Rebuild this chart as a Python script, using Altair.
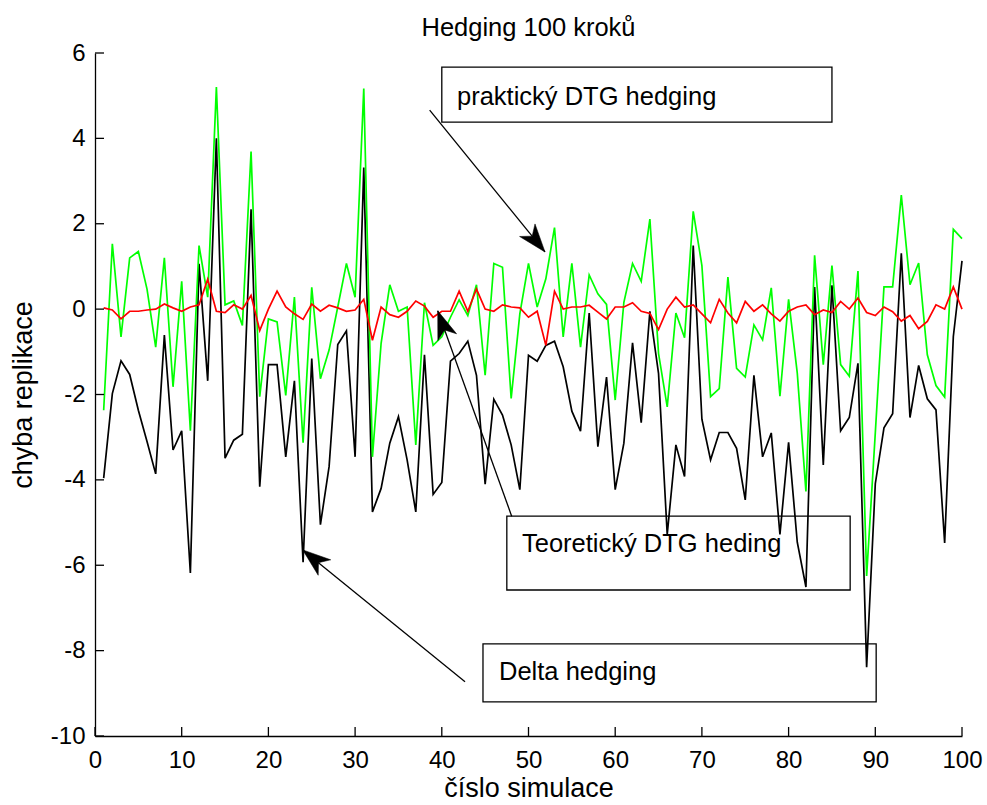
import math
import altair as alt
import pandas as pd

# ---------------- data ----------------
sim = list(range(1, 101))

delta = [-3.96, -1.98, -1.21, -1.53, -2.37, -3.10, -3.86, -0.61, -3.30, -2.85,
         -6.18, 1.06, -1.68, 4.00, -3.49, -3.07, -2.93, 2.34, -4.16, -1.30,
         -1.30, -3.46, -1.68, -5.93, -1.16, -5.05, -3.69, -0.83, -0.51, -3.46,
         3.32, -4.75, -4.20, -3.14, -2.52, -3.53, -4.75, -1.07, -4.34, -4.06,
         -1.22, -1.04, -0.75, -1.55, -4.10, -2.11, -2.48, -3.18, -4.23, -1.08,
         -1.22, -0.85, -0.75, -1.35, -2.39, -2.86, -0.09, -3.22, -1.59, -4.23,
         -3.14, -0.79, -2.66, -0.05, -1.51, -5.28, -3.18, -3.92, 1.49, -2.58,
         -3.53, -2.89, -2.89, -3.26, -4.47, -1.55, -3.46, -2.90, -5.28, -3.12,
         -5.46, -6.51, 0.52, -3.65, 0.56, -2.85, -2.54, -1.27, -8.39, -4.09,
         -2.78, -2.45, 1.31, -2.54, -1.32, -2.10, -2.36, -5.48, -0.64, 1.13]

prak = [-2.37, 1.53, -0.65, 1.20, 1.35, 0.47, -0.89, 1.20, -1.82, 0.65,
        -2.85, 1.49, 0.28, 5.20, 0.10, 0.19, -0.38, 3.69, -2.05, -0.23,
        -0.30, -2.02, 0.28, -3.13, 0.51, -1.63, -0.96, 0.05, 1.07, 0.28,
        5.17, -3.46, -0.80, 0.57, -0.05, 0.05, -3.18, 0.15, -0.85, -0.65,
        -0.19, 0.22, -0.15, 0.57, -1.55, 1.07, 0.98, -2.09, -0.11, 1.07,
        0.05, 0.71, 1.91, -0.65, 1.07, -0.89, 0.80, 0.36, 0.11, -2.13,
        0.16, 1.07, 0.65, 2.11, -1.04, -2.29, -0.09, -0.67, 2.29, 1.02,
        -2.05, -1.86, 0.75, -1.39, -1.59, -0.37, -0.72, 0.50, -2.04, 0.23,
        -1.50, -4.27, 1.26, -1.30, 1.02, -1.30, -1.57, 0.89, -6.25, -2.90,
        0.52, 0.52, 2.67, 0.57, 1.08, -1.07, -1.79, -2.06, 1.87, 1.65]

teor = [0.03, -0.02, -0.23, -0.05, -0.05, -0.02, 0.00, 0.12, 0.03, -0.05,
        0.05, 0.10, 0.70, -0.05, -0.08, 0.10, 0.00, 0.32, -0.50, 0.00,
        0.42, 0.05, -0.11, -0.24, 0.12, -0.05, 0.09, 0.03, -0.05, -0.02,
        0.23, -0.73, 0.05, -0.13, -0.19, -0.05, 0.19, 0.07, -0.19, -0.05,
        -0.05, 0.42, -0.05, 0.47, 0.00, -0.05, 0.10, 0.05, 0.03, -0.19,
        -0.05, -0.85, 0.42, 0.00, 0.05, 0.05, 0.09, -0.07, -0.23, 0.05,
        0.05, 0.15, -0.05, -0.10, -0.48, 0.00, 0.28, 0.05, 0.10, -0.11,
        -0.32, 0.23, -0.09, -0.32, 0.18, -0.05, 0.10, -0.11, -0.28, -0.05,
        0.05, 0.10, -0.13, -0.02, -0.08, 0.18, 0.00, 0.26, -0.08, -0.15,
        0.05, -0.06, -0.28, -0.15, -0.46, -0.29, 0.10, 0.00, 0.52, 0.00]

x_ticks = list(range(0, 101, 10))
y_ticks = list(range(-10, 7, 2))

title_text = "Hedging 100 kroků"
x_title = "číslo simulace"
y_title = "chyba replikace"

# annotations (data units)
box_labels = ["praktický DTG hedging", "Teoretický DTG heding", "Delta hedging"]
box_x1 = [40.0, 47.5, 44.75]
box_x2 = [85.0, 87.1, 90.1]
box_y1 = [5.67, -4.85, -7.84]
box_y2 = [4.38, -6.58, -9.20]
text_x = [41.75, 49.25, 46.6]
text_y = [4.78, -5.69, -8.69]
arrow_x1 = [38.6, 48.06, 42.68]
arrow_y1 = [4.66, -4.85, -8.73]
arrow_x2 = [51.9, 39.53, 23.96]
arrow_y2 = [1.34, -0.04, -5.64]

# ---------------- layout ----------------
W, H = 867, 683
FONT = "Liberation Sans"
XDOM, YDOM = [0, 100], [-10, 6]
LBL = "datum.value < 0 ? '-' + abs(datum.value) : '' + datum.value"

xs = alt.Scale(domain=XDOM, nice=False, zero=False)
ys = alt.Scale(domain=YDOM, nice=False, zero=False)
xaxis = alt.Axis(title=x_title, values=x_ticks, ticks=False, grid=False,
                 labelPadding=12, titlePadding=3, labelExpr=LBL,
                 labelFlush=False, labelOverlap=False)
yaxis = alt.Axis(title=y_title, values=y_ticks, ticks=False, grid=False,
                 labelPadding=10, titlePadding=13, labelExpr=LBL,
                 labelFlush=False, labelOverlap=False)


def X(f):
    return alt.X(f, type="quantitative", scale=xs, axis=xaxis)


def Y(f):
    return alt.Y(f, type="quantitative", scale=ys, axis=yaxis)


lines_df = pd.DataFrame({"sim": sim, "delta": delta, "prak": prak, "teor": teor})

line_black = alt.Chart(lines_df).mark_line(color="black", strokeWidth=1.7).encode(
    x=X("sim"), y=Y("delta"))
line_green = alt.Chart(lines_df).mark_line(color="#00ff00", strokeWidth=1.7).encode(
    x=X("sim"), y=Y("prak"))
line_red = alt.Chart(lines_df).mark_line(color="#ff0000", strokeWidth=1.7).encode(
    x=X("sim"), y=Y("teor"))

ytick_df = pd.DataFrame({"v": y_ticks})
xtick_df = pd.DataFrame({"t": x_ticks})
yt = alt.Chart(ytick_df).mark_rule(color="black", strokeWidth=1.3).encode(
    y=Y("v"), x=alt.value(0), x2=alt.value(9))
xt = alt.Chart(xtick_df).mark_rule(color="black", strokeWidth=1.3).encode(
    x=X("t"), y=alt.value(H), y2=alt.value(H - 9))

# arrows
px_x, px_y = W / 100.0, H / 16.0
angles = []
for a, b, c, d in zip(arrow_x1, arrow_y1, arrow_x2, arrow_y2):
    dx = (c - a) * px_x
    dy = -(d - b) * px_y
    n = math.hypot(dx, dy)
    ux, uy = -dx / n, -dy / n
    angles.append(math.degrees(math.atan2(-ux, uy)) % 360)

ann_df = pd.DataFrame({
    "label": box_labels, "bx1": box_x1, "bx2": box_x2, "by1": box_y1, "by2": box_y2,
    "tx": text_x, "ty": text_y, "ax1": arrow_x1, "ay1": arrow_y1,
    "ax2": arrow_x2, "ay2": arrow_y2, "ang": angles,
})

boxes = alt.Chart(ann_df).mark_rect(fillOpacity=0, stroke="black", strokeWidth=1.3).encode(
    x=X("bx1"), x2="bx2", y=Y("by1"), y2="by2")
texts = alt.Chart(ann_df).mark_text(align="left", baseline="alphabetic", font=FONT,
                                    fontSize=25.5, color="black").encode(
    x=X("tx"), y=Y("ty"), text="label:N")
shafts = alt.Chart(ann_df).mark_rule(color="black", strokeWidth=1.3).encode(
    x=X("ax1"), y=Y("ay1"), x2="ax2", y2="ay2")
heads = alt.Chart(ann_df).mark_point(
    shape="M0,0 L0.71,2 L0,1.45 L-0.71,2 Z", filled=True, fill="black",
    stroke="black", strokeWidth=0.5, opacity=1, size=784).encode(
    x=X("ax2"), y=Y("ay2"), angle=alt.Angle("ang:Q", scale=None))

chart = alt.layer(
    line_black, line_green, line_red, yt, xt, boxes, texts, shafts, heads
).properties(
    width=W, height=H,
    background="white",
    title=alt.TitleParams(title_text, fontSize=25.5, fontWeight="normal", font=FONT,
                          color="black", anchor="middle", offset=0),
    padding={"left": 95, "top": 53, "right": 25, "bottom": 69},
    autosize=alt.AutoSizeParams(type="none"),
).configure_view(strokeWidth=0).configure_axis(
    domainColor="black", domainWidth=1.3, labelFont=FONT, labelFontSize=24,
    labelColor="black", titleFont=FONT, titleFontSize=27, titleFontWeight="normal",
    titleColor="black",
)

chart.save("out.html", embed_options={"renderer": "svg", "actions": False})
